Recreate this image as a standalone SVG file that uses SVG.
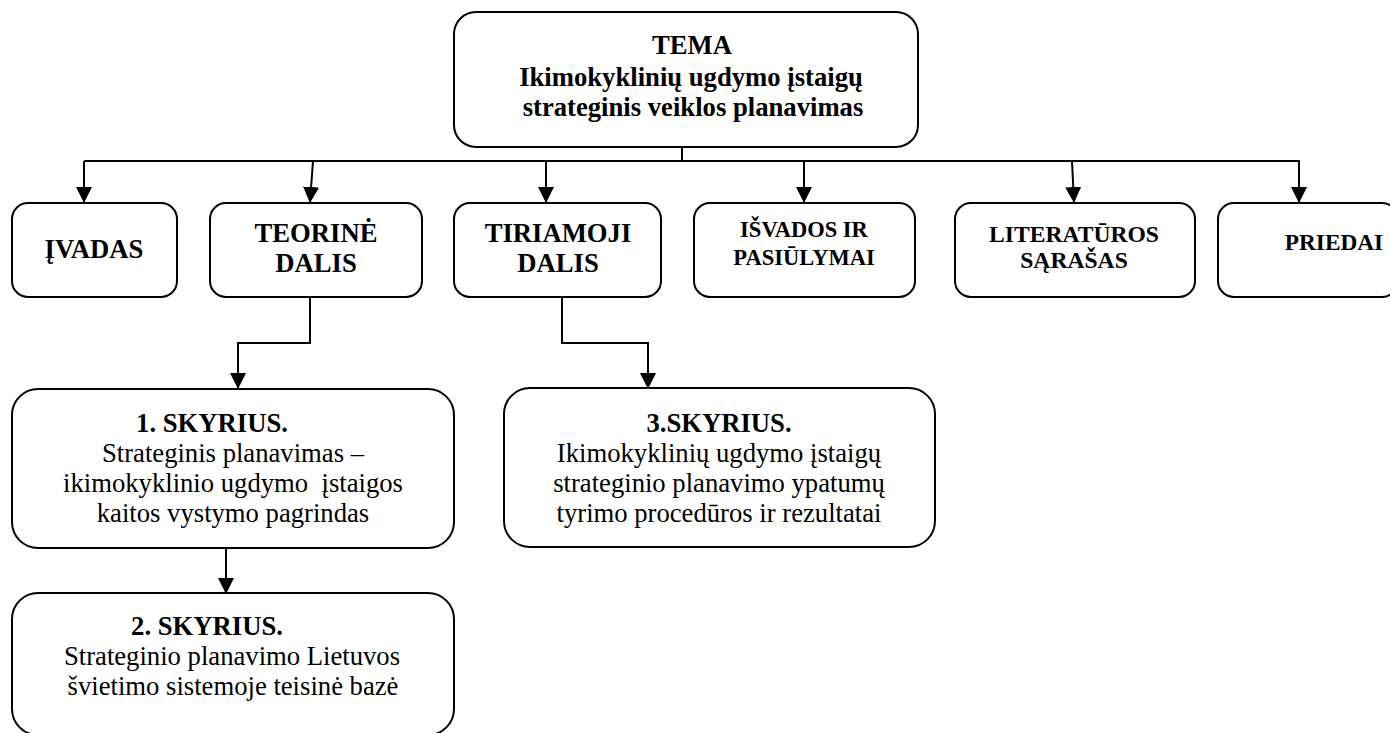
<svg xmlns="http://www.w3.org/2000/svg" width="1390" height="733" viewBox="0 0 1390 733">
<style>
.box{fill:#fff;stroke:#000;stroke-width:2}
.con{fill:none;stroke:#000;stroke-width:2}
text{font-family:"Liberation Serif","Times New Roman",serif;fill:#000;text-anchor:middle}
.b{font-weight:bold;font-size:26.67px}
.r{font-size:26.67px}
</style>
<defs>
<marker id="arr" viewBox="0 0 16 16" refX="15" refY="8" markerWidth="16" markerHeight="16" markerUnits="userSpaceOnUse" orient="auto">
<path d="M0,0 L16,8 L0,16 Z" fill="#000"/>
</marker>
</defs>
<rect width="1390" height="733" fill="#fff"/>
<g id="connectors">
<path class="con" d="M682,147 V161"/>
<path class="con" d="M84,161 H1300"/>
<path class="con" d="M84,161 V202" marker-end="url(#arr)"/>
<path class="con" d="M313,161 L310,202" marker-end="url(#arr)"/>
<path class="con" d="M546,161 V202" marker-end="url(#arr)"/>
<path class="con" d="M804,161 V202" marker-end="url(#arr)"/>
<path class="con" d="M1072,161 L1074,202" marker-end="url(#arr)"/>
<path class="con" d="M1299,161 V202" marker-end="url(#arr)"/>
<path class="con" d="M310,297 V343 H238 V388" marker-end="url(#arr)"/>
<path class="con" d="M562,297 V343 H648 V388" marker-end="url(#arr)"/>
<path class="con" d="M226,548 V593" marker-end="url(#arr)"/>
</g>
<g id="tema">
<rect class="box" x="454" y="12" width="464" height="135" rx="22"/>
<text class="b" x="692" y="54">TEMA</text>
<text class="b" x="691" y="86">Ikimokyklinių ugdymo įstaigų</text>
<text class="b" x="693" y="116">strateginis veiklos planavimas</text>
</g>
<g id="ivadas">
<rect class="box" x="12" y="203" width="165" height="94" rx="16"/>
<text class="b" x="94" y="258">ĮVADAS</text>
</g>
<g id="teorine">
<rect class="box" x="210" y="203" width="212" height="94" rx="16"/>
<text class="b" x="316" y="242">TEORINĖ</text>
<text class="b" x="316" y="272">DALIS</text>
</g>
<g id="tiriamoji">
<rect class="box" x="454" y="203" width="207" height="94" rx="16"/>
<text class="b" x="558" y="242">TIRIAMOJI</text>
<text class="b" x="558" y="272">DALIS</text>
</g>
<g id="isvados">
<rect class="box" x="694" y="203" width="221" height="94" rx="16"/>
<text class="b" x="804" y="237" style="font-size:22.5px">IŠVADOS IR</text>
<text class="b" x="804" y="265" style="font-size:22.5px">PASIŪLYMAI</text>
</g>
<g id="literaturos">
<rect class="box" x="955" y="203" width="240" height="94" rx="16"/>
<text class="b" x="1074" y="242" style="font-size:23.6px">LITERATŪROS</text>
<text class="b" x="1074" y="268" style="font-size:23.6px">SĄRAŠAS</text>
</g>
<g id="priedai">
<rect class="box" x="1218" y="203" width="180" height="94" rx="16"/>
<text class="b" x="1334" y="250" style="font-size:23.3px">PRIEDAI</text>
</g>
<g id="skyrius1">
<rect class="box" x="12" y="389" width="442" height="159" rx="26"/>
<text class="b" x="212" y="432">1. SKYRIUS.</text>
<text class="r" x="233" y="462">Strateginis planavimas –</text>
<text class="r" x="233" y="492" xml:space="preserve">ikimokyklinio ugdymo  įstaigos</text>
<text class="r" x="233" y="522">kaitos vystymo pagrindas</text>
</g>
<g id="skyrius2">
<rect class="box" x="12" y="593" width="442" height="142" rx="26"/>
<text class="b" x="207" y="635">2. SKYRIUS.</text>
<text class="r" x="232" y="665">Strateginio planavimo Lietuvos</text>
<text class="r" x="233" y="695">švietimo sistemoje teisinė bazė</text>
</g>
<g id="skyrius3">
<rect class="box" x="504" y="388" width="431" height="159" rx="26"/>
<text class="b" x="719" y="432">3.SKYRIUS.</text>
<text class="r" x="719" y="462">Ikimokyklinių ugdymo įstaigų</text>
<text class="r" x="719" y="492">strateginio planavimo ypatumų</text>
<text class="r" x="719" y="522">tyrimo procedūros ir rezultatai</text>
</g>
</svg>
